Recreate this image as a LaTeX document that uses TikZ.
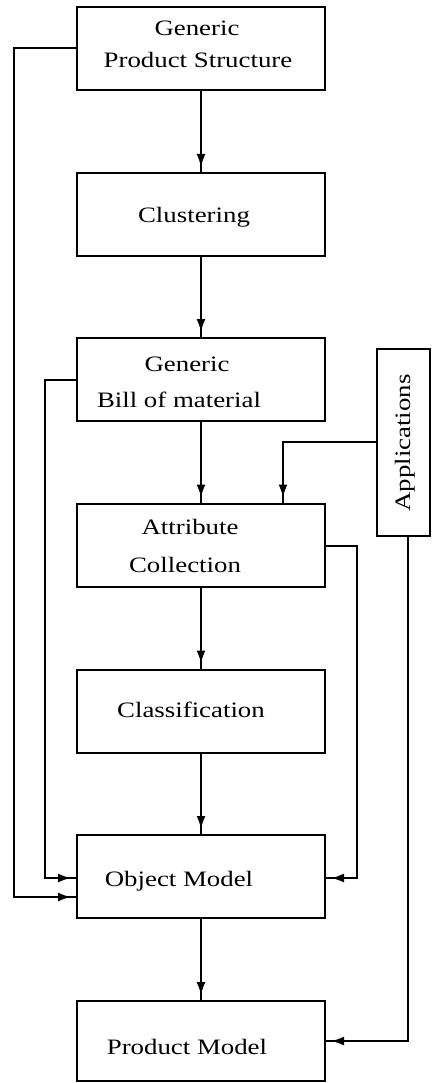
\documentclass[tikz,border=0pt]{standalone}
\usepackage{fontspec}
\setmainfont{Liberation Serif}[FakeStretch=1.22]
\usetikzlibrary{arrows.meta,decorations.markings}
\begin{document}
\begin{tikzpicture}[x=1pt,y=-1pt,
  line width=2pt,
  box/.style={draw,rectangle,minimum width=248pt,minimum height=83pt,inner sep=0pt},
  lbl/.style={inner sep=0pt,anchor=base,font=\fontsize{22}{26}\selectfont},
  flow/.style={postaction={decorate},
    decoration={markings,mark=at position -5pt with {\arrow{Latex[length=13pt,width=9pt]}}}}]
\useasboundingbox (0,0) rectangle (432,1083);

% process boxes
\node[box] (gps) at (201,48.5) {};
\node[box] (clu) at (201,214.5) {};
\node[box] (bom) at (201,379.5) {};
\node[box] (att) at (201,545) {};
\node[box] (cls) at (201,711) {};
\node[box] (obj) at (201,876.5) {};
\node[box,minimum height=80pt] (prd) at (201,1041) {};
\node[draw,rectangle,minimum width=53pt,minimum height=187pt,inner sep=0pt] (app) at (403.5,442.5) {};

% box texts
\node[lbl] (t1a) at (197,36) {Generic};
\node[lbl] (t1b) at (198,68) {Product Structure};
\node[lbl] (t2) at (194,223) {Clustering};
\node[lbl] (t3a) at (187,371) {Generic};
\node[lbl] (t3b) at (179,407) {Bill of material};
\node[lbl] (t4a) at (190,534) {Attribute};
\node[lbl] (t4b) at (185,572) {Collection};
\node[lbl] (t5) at (191,717) {Classification};
\node[lbl] (t6) at (179,886) {Object Model};
\node[lbl] (t7) at (187,1054) {Product Model};
\node[inner sep=0pt,rotate=90,font=\fontsize{22}{26}\selectfont] (tapp) at (405,443) {Applications};

% main chain
\draw[flow] (gps) -- (clu);
\draw[flow] (clu) -- (bom);
\draw[flow] (bom) -- (att);
\draw[flow] (att) -- (cls);
\draw[flow] (cls) -- (obj);
\draw[flow] (obj) -- (prd);

% bypass connectors
\coordinate (l1) at (14,897);
\coordinate (l2) at (45,878);
\coordinate (r1) at (357,878);
\coordinate (a1) at (283,442);
\coordinate (a2) at (408,1041);

\draw[flow] (gps.west) -| (l1) -- (l1 -| obj.west);
\draw[flow] (bom.west) -| (l2) -- (l2 -| obj.west);
\draw[flow] (att.east |- 0,546) -| (r1) -- (r1 -| obj.east);
\draw[flow] (app.west |- a1) -- (a1) -- (a1 |- att.north);
\draw[flow] (app.south -| a2) -- (a2) -- (prd.east);
\end{tikzpicture}
\end{document}
